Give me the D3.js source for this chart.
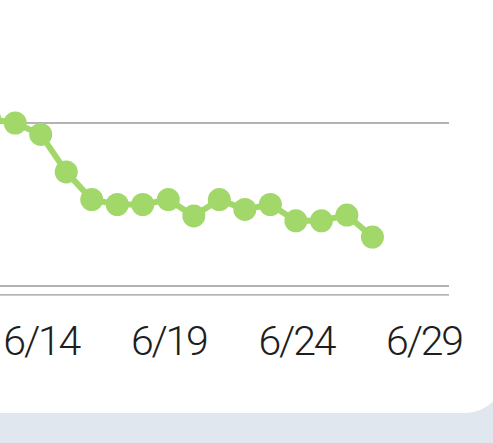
<!DOCTYPE html>
<html>
<head>
<meta charset="utf-8">
<script src="https://cdn.jsdelivr.net/npm/d3@7"></script>
<style>
  html, body { margin: 0; padding: 0; background: #e1e7ee; overflow: hidden; }
  svg { display: block; }
</style>
</head>
<body>
<script>
var width = 493,
    height = 443;

// daily readings (visible part of the series)
var days = ["2023-06-12", "2023-06-13", "2023-06-14", "2023-06-15", "2023-06-16",
            "2023-06-17", "2023-06-18", "2023-06-19", "2023-06-20", "2023-06-21",
            "2023-06-22", "2023-06-23", "2023-06-24", "2023-06-25", "2023-06-26",
            "2023-06-27"];
var values = [10.25, 10.0, 9.3, 7.0, 5.3, 5.0, 5.0, 5.3, 4.3, 5.3, 4.7, 5.0, 4.0, 4.0, 4.35, 3.0];
var tickDays = ["2023-06-14", "2023-06-19", "2023-06-24", "2023-06-29"];
var gridValues = [0, 10, 20];

var parse = d3.timeParse("%Y-%m-%d");
var data = days.map((d, i) => ({date: parse(d), value: values[i]}));

var svg = d3.select("body").append("svg")
    .attr("width", width)
    .attr("height", height);

// white card, runs off the top/left/right of the frame
svg.append("rect")
    .attr("x", -40)
    .attr("y", -40)
    .attr("width", 545)
    .attr("height", 453)
    .attr("rx", 40)
    .attr("fill", "#fff");

var x = d3.scaleTime()
    .domain([parse("2023-06-14"), parse("2023-06-30")])
    .range([40.7, 449]);

var y = d3.scaleLinear()
    .domain([0, 10])
    .range([286, 123]);

// grid
svg.append("g")
    .attr("stroke", "#9a9a9a")
    .attr("stroke-width", 1.3)
  .selectAll("line")
  .data(gridValues)
  .join("line")
    .attr("x1", -20)
    .attr("x2", x.range()[1])
    .attr("y1", d => y(d))
    .attr("y2", d => y(d));

// x axis
var xAxis = svg.append("g")
    .attr("transform", `translate(0,${y(-0.55)})`)
    .call(d3.axisBottom(x)
      .tickValues(tickDays.map(parse))
      .tickFormat(d3.timeFormat("%-m/%-d"))
      .tickSize(0)
      .tickPadding(0));

xAxis.select(".domain").remove();
xAxis.append("line")
    .attr("x1", -20)
    .attr("x2", x.range()[1])
    .attr("stroke", "#9a9a9a")
    .attr("stroke-width", 1.3);

xAxis.selectAll("text")
    .attr("y", 60.5)
    .attr("dy", null)
    .attr("fill", "#1e1e1e")
    .attr("font-family", "Roboto")
    .attr("font-weight", 300)
    .attr("font-size", 41)
    .attr("letter-spacing", "-2.2px");

var green = "#a2d76a";

var line = d3.line()
    .x(d => x(d.date))
    .y(d => y(d.value));

svg.append("path")
    .datum(data)
    .attr("fill", "none")
    .attr("stroke", green)
    .attr("stroke-width", 6)
    .attr("stroke-linejoin", "round")
    .attr("d", line);

svg.append("g")
    .attr("fill", green)
  .selectAll("circle")
  .data(data)
  .join("circle")
    .attr("cx", d => x(d.date))
    .attr("cy", d => y(d.value))
    .attr("r", 11.5);
</script>
</body>
</html>
